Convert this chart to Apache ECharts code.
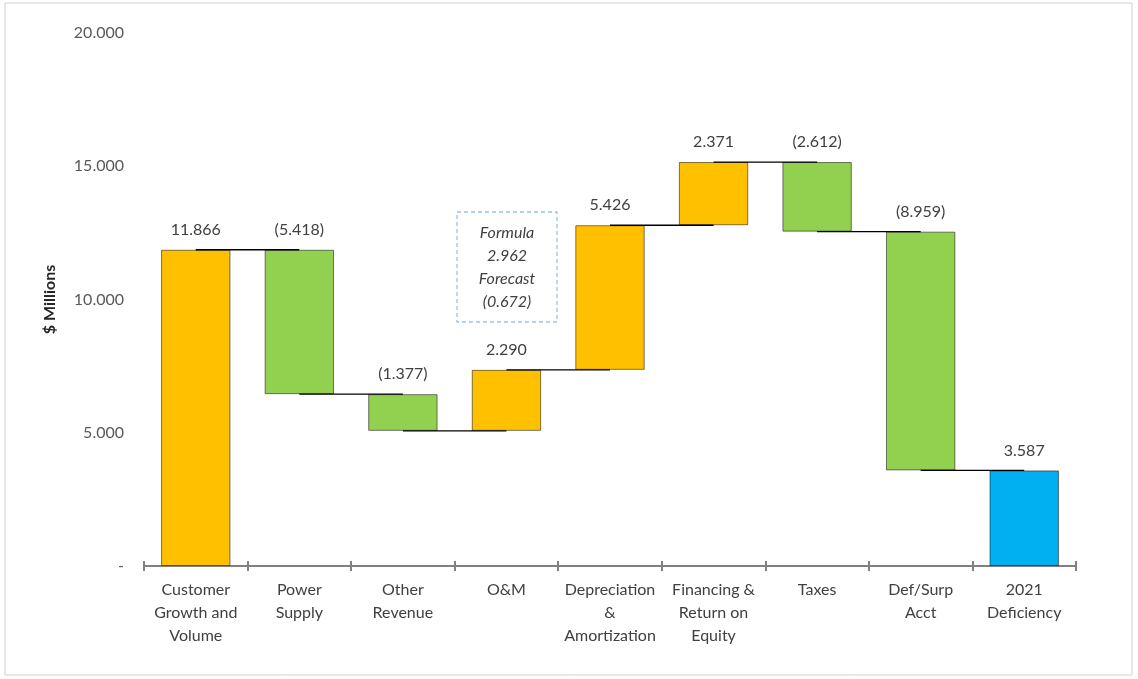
<!DOCTYPE html>
<html>
<head>
<meta charset="utf-8">
<script src="https://cdn.jsdelivr.net/npm/echarts@6/dist/echarts.min.js"></script>
<style>
  html, body { margin: 0; padding: 0; background: #fff; }
  #main { width: 1138px; height: 679px; }
</style>
</head>
<body>
<div id="main"></div>
<script>
var categories = ['Customer\nGrowth and\nVolume', 'Power\nSupply', 'Other\nRevenue', 'O&M',
    'Depreciation\n&\nAmortization', 'Financing &\nReturn on\nEquity', 'Taxes', 'Def/Surp\nAcct', '2021\nDeficiency'];
var changes = [11.866, -5.418, -1.377, 2.290, 5.426, 2.371, -2.612, -8.959, 3.587];
var isTotal = [false, false, false, false, false, false, false, false, true];
var noteLines = ['Formula', '2.962', 'Forecast', '(0.672)'];
var yTicks = [0, 5, 10, 15, 20];

var colUp = '#FFC000', colDown = '#92D050', colTotal = '#00B0F0';

// running totals -> invisible base + visible bar
var base = [], heights = [], levels = [];
var run = 0;
changes.forEach(function (v, i) {
    if (isTotal[i]) {
        base.push(0);
        heights.push({ value: v, itemStyle: { color: colTotal } });
        run = v;
    } else {
        var next = run + v;
        base.push(Math.min(run, next));
        heights.push({ value: Math.abs(v), itemStyle: { color: v >= 0 ? colUp : colDown } });
        run = next;
    }
    levels.push(run);
});
// connector lines from bar i to bar i+1
var connectors = [];
for (var i = 0; i < categories.length - 1; i++) {
    connectors.push([i, levels[i]]);
}

function fmt(v) {
    return v < 0 ? '(' + Math.abs(v).toFixed(3) + ')' : v.toFixed(3);
}

var font = 'Lato, "Open Sans", sans-serif';
var myChart = echarts.init(document.getElementById('main'));
var option = {
    animation: false,
    textStyle: { fontFamily: font },
    grid: { left: 144, right: 62, top: 33, bottom: 113 },
    xAxis: [{
        type: 'category',
        data: categories,
        position: 'bottom',
        axisLine: { lineStyle: { color: '#808080', width: 2 } },
        axisTick: { show: true, length: 5, lineStyle: { color: '#808080', width: 2 } },
        axisLabel: { color: '#404040', fontSize: 16, lineHeight: 23, margin: 12, interval: 0 }
    }, {
        // inner half of the crossing ticks
        type: 'category',
        data: categories,
        position: 'bottom',
        offset: 0,
        axisLine: { show: false },
        axisTick: { show: true, inside: true, length: 5, lineStyle: { color: '#808080', width: 2 } },
        axisLabel: { show: false }
    }],
    yAxis: {
        type: 'value',
        min: yTicks[0],
        max: yTicks[yTicks.length - 1],
        interval: 5,
        name: '$ Millions',
        nameLocation: 'middle',
        nameRotate: 90,
        nameGap: 86,
        nameTextStyle: { color: '#262626', fontSize: 16, fontWeight: 'bold' },
        axisLine: { show: false },
        axisTick: { show: false },
        splitLine: { show: false },
        axisLabel: {
            color: '#595959', fontSize: 16, margin: 20,
            formatter: function (v) { return v === 0 ? '-' : v.toFixed(3); }
        }
    },
    series: [
        {
            type: 'bar',
            stack: 'wf',
            data: base,
            barCategoryGap: '33%',
            itemStyle: { color: 'transparent' },
            silent: true
        },
        {
            type: 'bar',
            stack: 'wf',
            data: heights,
            itemStyle: { borderColor: 'rgba(0,0,0,0.5)', borderWidth: 1 },
            label: {
                show: true,
                position: 'top',
                distance: 12,
                color: '#404040',
                fontSize: 16,
                formatter: function (p) { return fmt(changes[p.dataIndex]); }
            }
        },
        {
            type: 'custom',
            data: connectors,
            z: 5,
            renderItem: function (params, api) {
                var a = api.coord([api.value(0), api.value(1)]);
                var b = api.coord([api.value(0) + 1, api.value(1)]);
                return {
                    type: 'line',
                    shape: { x1: a[0], y1: a[1], x2: b[0], y2: b[1] },
                    style: { stroke: '#000', lineWidth: 1.3 }
                };
            }
        }
    ],
    graphic: [
        {
            type: 'rect',
            shape: { x: 5, y: 3, width: 1127, height: 672 },
            style: { fill: 'none', stroke: '#d0d0d0', lineWidth: 1 },
            silent: true
        },
        {
            type: 'rect',
            shape: { x: 457, y: 212, width: 100, height: 110 },
            style: { fill: 'none', stroke: '#9DC3E6', lineWidth: 1.3, lineDash: [4, 3] }
        },
        {
            type: 'text',
            x: 507, y: 267,
            style: {
                text: noteLines.join('\n'),
                fill: '#404040',
                font: 'italic 16px ' + font,
                lineHeight: 23,
                align: 'center',
                verticalAlign: 'middle'
            }
        }
    ]
};
myChart.setOption(option);
</script>
</body>
</html>
